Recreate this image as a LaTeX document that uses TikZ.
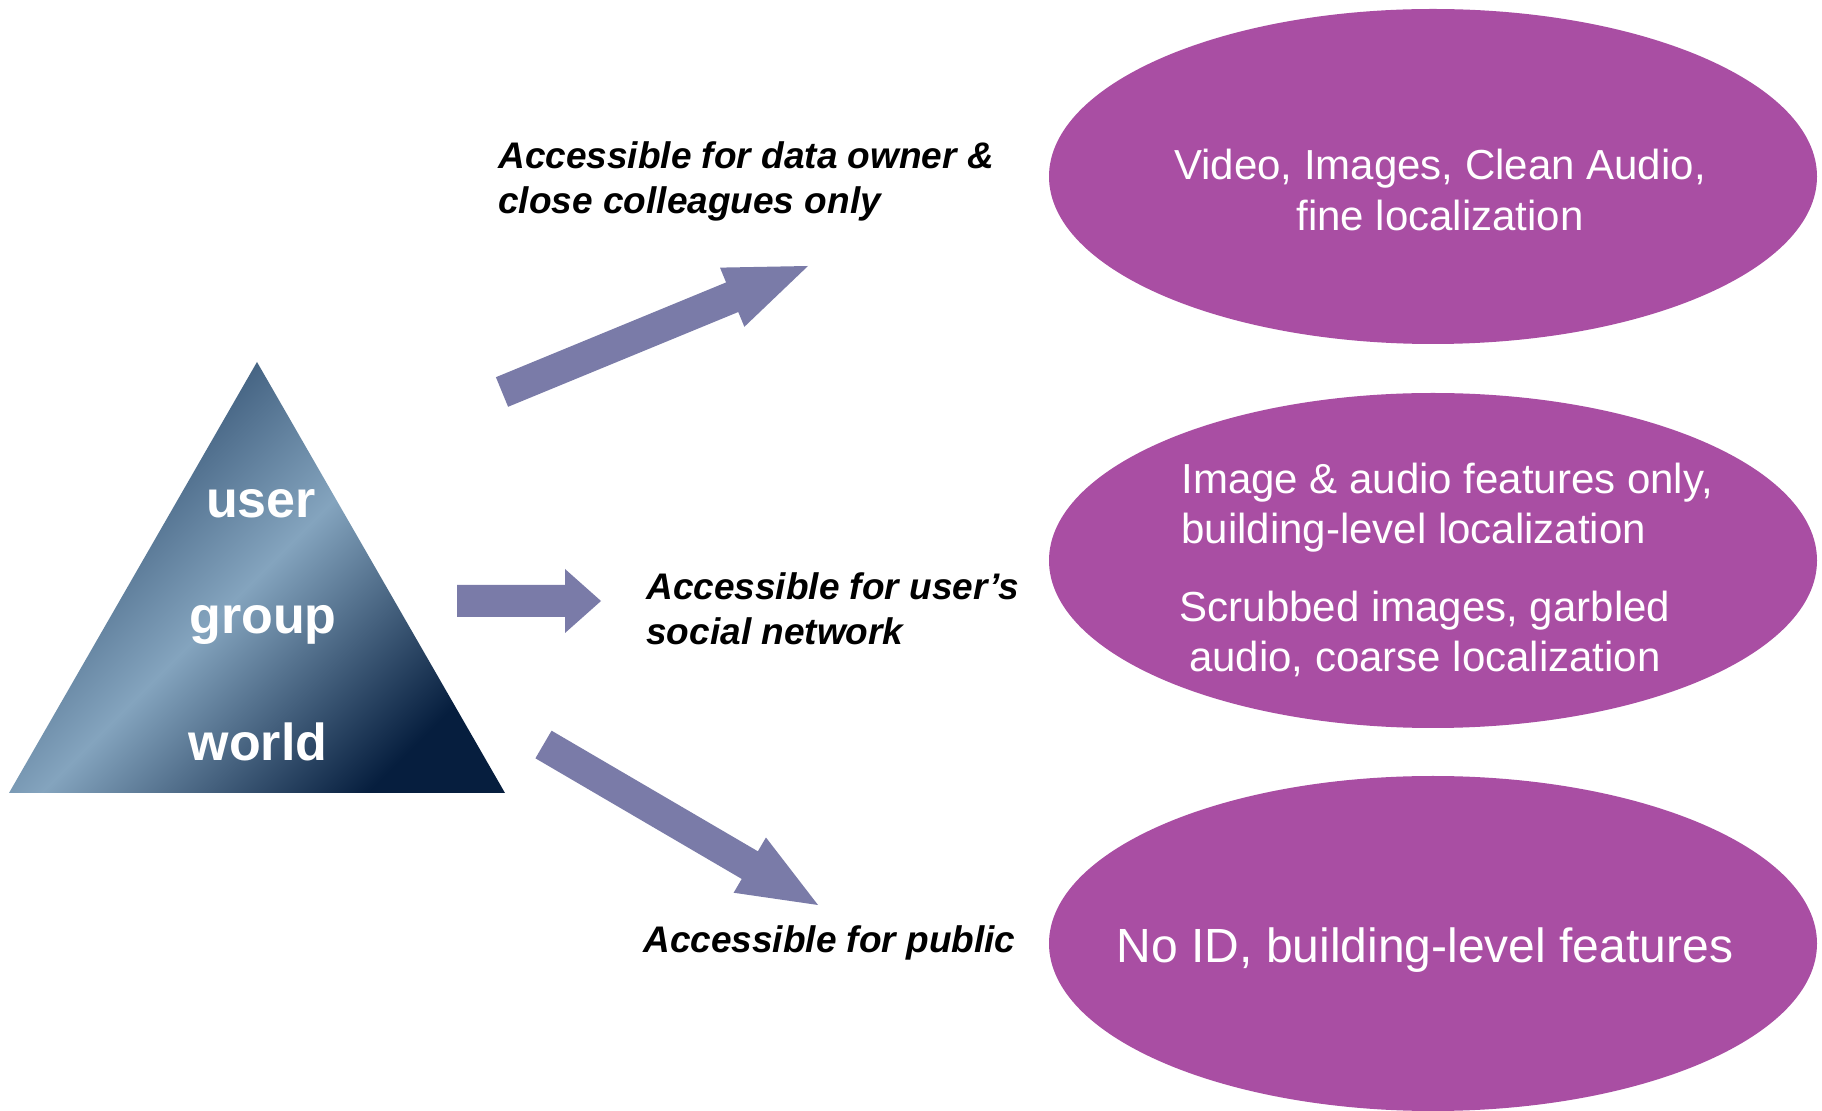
\documentclass[tikz,border=0pt]{standalone}
\usepackage{fontspec}
\setmainfont{Liberation Sans}
\usetikzlibrary{shapes.geometric,calc}
\definecolor{arrowc}{RGB}{122,123,168}
\definecolor{ellc}{RGB}{169,78,163}
\definecolor{navyc}{RGB}{6,30,62}
\definecolor{slatec}{RGB}{38,68,102}
\definecolor{steelc}{RGB}{132,164,190}
% #1 tail, #2 tip, #3 half shaft width, #4 half head width, #5 head length
\newcommand\blockarrow[5]{%
  \coordinate (hb) at ($(#2)!#5!(#1)$);
  \fill[arrowc] ($(#1)!#3!-90:(#2)$) -- ($(hb)!#3!90:(#1)$) -- ($(hb)!#4!90:(#1)$) -- (#2)
    -- ($(hb)!#4!-90:(#1)$) -- ($(hb)!#3!-90:(#1)$) -- ($(#1)!#3!90:(#2)$) -- cycle;}
\begin{document}
\begin{tikzpicture}[x=0.5pt,y=-0.5pt,
  ell/.style={ellipse, fill=ellc, minimum width=384pt, minimum height=167.5pt, inner sep=0pt},
  lbl/.style={font=\fontsize{18.5pt}{22pt}\selectfont\bfseries\itshape, anchor=base west, inner sep=0pt},
  etxt/.style={text=white, font=\fontsize{21pt}{25pt}\selectfont, inner sep=0pt, anchor=base},
  etxtl/.style={etxt, anchor=base west},
  tritxt/.style={text=white, font=\fontsize{26pt}{30pt}\selectfont\bfseries, anchor=base, inner sep=0pt}]
\fill[white] (0,0) rectangle (1822,1111);
\useasboundingbox (0,0) rectangle (1822,1111);

% triangle
\shade[left color=slatec, right color=navyc, middle color=steelc, shading angle=45]
  (257,362) -- (505,793) -- (9,793) -- cycle;
\node[tritxt] (tuser) at (261,518) {user};
\node[tritxt] (tgroup) at (263,634) {group};
\node[tritxt] (tworld) at (258,761) {world};

% ellipses
\node[ell] (e1) at (1433,176.5) {};
\node[ell] (e2) at (1433,560.5) {};
\node[ell] (e3) at (1433,943.5) {};

\node[etxt] (e1a) at (1440,180) {Video, Images, Clean Audio,};
\node[etxt] (e1b) at (1440,231) {fine localization};
\node[etxtl] (e2a) at (1181,494) {Image \& audio features only,};
\node[etxtl] (e2b) at (1181,544) {building-level localization};
\node[etxt] (e2c) at (1425,622) {Scrubbed images, garbled};
\node[etxt] (e2d) at (1425,672) {audio, coarse localization};
\node[etxt, font=\fontsize{24pt}{28pt}\selectfont] (e3a) at (1425,963) {No ID, building-level features};

% labels
\node[lbl] (l1a) at (498,169) {Accessible for data owner \&};
\node[lbl] (l1b) at (498,214) {close colleagues only};
\node[lbl] (l2a) at (646,600) {Accessible for user’s};
\node[lbl] (l2b) at (646,645) {social network};
\node[lbl] (l3a) at (643,953) {Accessible for public};

% arrows
\coordinate (a1t) at (502,392);
\coordinate (a1p) at (808,266);
\coordinate (a2t) at (457,601);
\coordinate (a2p) at (601,601);
\coordinate (a3t) at (543.5,744.5);
\coordinate (a3p) at (818,905);
\blockarrow{a1t}{a1p}{8pt}{16pt}{41pt}
\blockarrow{a2t}{a2p}{8pt}{16pt}{18pt}
\blockarrow{a3t}{a3p}{8pt}{16pt}{39.5pt}
\end{tikzpicture}
\end{document}
